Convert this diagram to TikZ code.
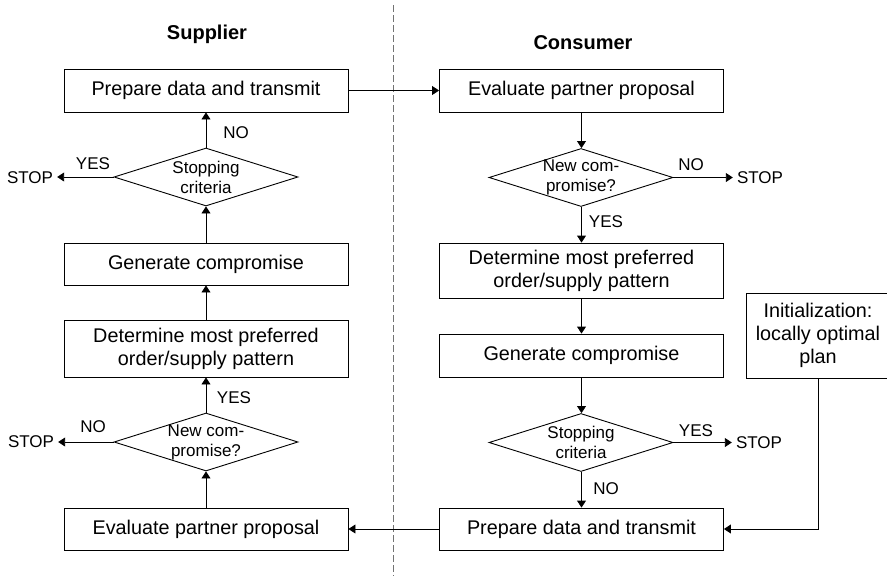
\documentclass[tikz,border=0pt]{standalone}
\usepackage{fontspec}
\setmainfont{Liberation Sans}
\usetikzlibrary{shapes.geometric,arrows.meta}
\tikzset{
  stepbox/.style={draw, line width=0.9pt, minimum width=284pt, inner sep=0pt, align=center, font=\fontsize{19.8}{23}\selectfont},
  decision/.style={draw, line width=0.9pt, shape=diamond, minimum width=184pt, minimum height=58pt, inner sep=0pt,
     label={[font=\fontsize{17}{20}\selectfont, align=center]center:#1}},
  small/.style={font=\fontsize{17}{20}\selectfont, inner sep=0pt},
  stoplbl/.style={font=\fontsize{17}{20}\selectfont, inner xsep=4pt, inner ysep=0pt},
  title/.style={font=\fontsize{20}{24}\selectfont\bfseries},
  arr/.style={line width=0.9pt, -{Triangle[length=7pt,width=9pt]}},
  divider/.style={draw=black!55, line width=1pt, dash pattern=on 7pt off 3pt}
}
\begin{document}
\begin{tikzpicture}[x=1pt,y=-1pt]
\useasboundingbox (0,0) rectangle (887,576);
% divider
\coordinate (dtop) at (393,5);
\coordinate (dbot) at (393,576);
\draw[divider] (dtop) -- (dbot);
% titles
\node[title] (tsup) at (207,34) {Supplier};
\node[title] (tcon) at (583,43) {Consumer};
% supplier column
\node[stepbox, minimum height=43pt] (sp) at (206,90.5) {Prepare data and transmit};
\node[decision={Stopping\\criteria}] (ss) at (206,177) {};
\node[stepbox, minimum height=42pt] (sg) at (206,264) {Generate compromise};
\node[stepbox, minimum height=57pt] (sd) at (206,348.5) {Determine most preferred\\order/supply pattern};
\node[decision={New com-\\promise?}] (sn) at (206,442) {};
\node[stepbox, minimum height=42pt] (se) at (206,529) {Evaluate partner proposal};
% consumer column
\node[stepbox, minimum height=43pt] (ce) at (581.5,90.5) {Evaluate partner proposal};
\node[decision={New com-\\promise?}] (cn) at (581,177.5) {};
\node[stepbox, minimum height=55pt] (cd) at (581.5,270.5) {Determine most preferred\\order/supply pattern};
\node[stepbox, minimum height=43pt] (cg) at (581.5,355.5) {Generate compromise};
\node[decision={Stopping\\criteria}] (cs) at (581,442.5) {};
\node[stepbox, minimum height=42pt] (cp) at (581.5,529) {Prepare data and transmit};
\node[stepbox, minimum width=144pt, minimum height=85pt] (init) at (818,335.5) {Initialization:\\locally optimal\\plan};
% stop nodes
\node[stoplbl] (stop1) at (30,178) {STOP};
\node[stoplbl] (stop2) at (760,178) {STOP};
\node[stoplbl] (stop3) at (31,442) {STOP};
\node[stoplbl] (stop4) at (759,442.5) {STOP};
% supplier connectors
\draw[arr] (se.north) -- (sn.south);
\draw[arr] (sn.north) -- (sd.south);
\draw[arr] (sn.west) -- (stop3.east);
\draw[arr] (sd.north) -- (sg.south);
\draw[arr] (sg.north) -- (ss.south);
\draw[arr] (ss.north) -- (sp.south);
\draw[arr] (ss.west) -- (stop1.east |- ss.west);
% cross connectors
\draw[arr] (sp.east) -- (ce.west);
\draw[arr] (cp.west) -- (se.east);
% consumer connectors
\draw[arr] (ce.south) -- (cn.north -| ce.south);
\draw[arr] (cn.east) -- (stop2.west |- cn.east);
\draw[arr] (cn.south -| cd.north) -- (cd.north);
\draw[arr] (cd.south) -- (cg.north);
\draw[arr] (cg.south) -- (cs.north -| cg.south);
\draw[arr] (cs.east) -- (stop4.west);
\draw[arr] (cs.south -| cp.north) -- (cp.north);
\draw[arr] (init.south) |- (cp.east);
% yes/no labels
\node[small] (l1) at (236,133) {NO};
\node[small] (l2) at (93,164) {YES};
\node[small] (l3) at (234,398) {YES};
\node[small] (l4) at (93,427) {NO};
\node[small] (l5) at (691,165) {NO};
\node[small] (l6) at (606,222) {YES};
\node[small] (l7) at (696,431) {YES};
\node[small] (l8) at (606,489) {NO};
\end{tikzpicture}
\end{document}
